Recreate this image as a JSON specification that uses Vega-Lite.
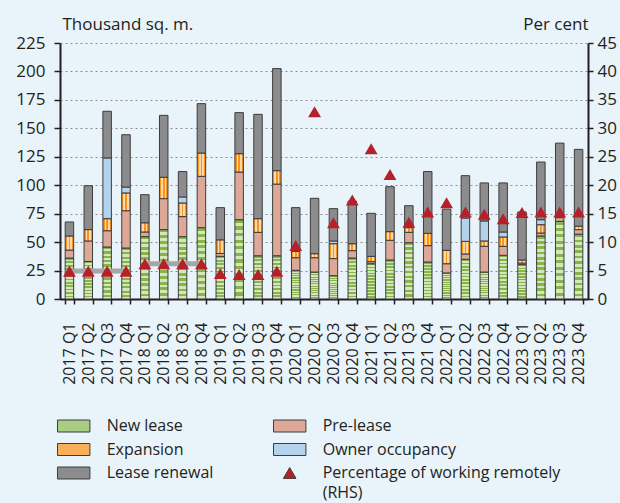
{
  "$schema": "https://vega.github.io/schema/vega-lite/v6.json",
  "width": 528,
  "height": 256,
  "autosize": {"type": "none"},
  "padding": {"left": 60, "top": 43, "right": 32, "bottom": 204},
  "background": "#E9F3FA",
  "config": {
    "view": {"stroke": null},
    "font": "Open Sans",
    "style": {"guide-label": {"lineHeight": 20}},
    "axis": {
      "labelFont": "Open Sans", "titleFont": "Open Sans",
      "labelColor": "#231F20", "titleColor": "#231F20",
      "domainColor": "#231F20", "tickColor": "#231F20",
      "domainWidth": 2, "tickWidth": 1.5, "titleFontWeight": "normal", "grid": false
    }
  },
  "datasets": {
    "bars": [
      {"q": "2017 Q1", "New lease": 36, "Pre-lease": 7, "Expansion": 12.4, "Owner occupancy": 0, "Lease renewal": 12.3},
      {"q": "2017 Q2", "New lease": 33, "Pre-lease": 18, "Expansion": 10, "Owner occupancy": 0, "Lease renewal": 38.6},
      {"q": "2017 Q3", "New lease": 45.7, "Pre-lease": 14.3, "Expansion": 10.6, "Owner occupancy": 53.4, "Lease renewal": 41},
      {"q": "2017 Q4", "New lease": 44.8, "Pre-lease": 32.8, "Expansion": 15.6, "Owner occupancy": 5.2, "Lease renewal": 46},
      {"q": "2018 Q1", "New lease": 54.8, "Pre-lease": 4.1, "Expansion": 8.1, "Owner occupancy": 0, "Lease renewal": 24.7},
      {"q": "2018 Q2", "New lease": 61, "Pre-lease": 27.2, "Expansion": 18.8, "Owner occupancy": 0, "Lease renewal": 54.4},
      {"q": "2018 Q3", "New lease": 54.8, "Pre-lease": 17.6, "Expansion": 12, "Owner occupancy": 5.3, "Lease renewal": 22.3},
      {"q": "2018 Q4", "New lease": 62.7, "Pre-lease": 45.1, "Expansion": 20.5, "Owner occupancy": 0, "Lease renewal": 43.4},
      {"q": "2019 Q1", "New lease": 37.5, "Pre-lease": 2.5, "Expansion": 12, "Owner occupancy": 0, "Lease renewal": 28.3},
      {"q": "2019 Q2", "New lease": 69.7, "Pre-lease": 41.9, "Expansion": 16.1, "Owner occupancy": 0, "Lease renewal": 36.1},
      {"q": "2019 Q3", "New lease": 38, "Pre-lease": 20.6, "Expansion": 12, "Owner occupancy": 0, "Lease renewal": 91.7},
      {"q": "2019 Q4", "New lease": 38, "Pre-lease": 63, "Expansion": 11.8, "Owner occupancy": 0, "Lease renewal": 89.7},
      {"q": "2020 Q1", "New lease": 25.2, "Pre-lease": 11.1, "Expansion": 5.6, "Owner occupancy": 0, "Lease renewal": 38.4},
      {"q": "2020 Q2", "New lease": 23.7, "Pre-lease": 12.6, "Expansion": 3.5, "Owner occupancy": 0, "Lease renewal": 48.7},
      {"q": "2020 Q3", "New lease": 20.5, "Pre-lease": 15, "Expansion": 13.1, "Owner occupancy": 2.4, "Lease renewal": 28.4},
      {"q": "2020 Q4", "New lease": 36, "Pre-lease": 6.5, "Expansion": 6.1, "Owner occupancy": 0, "Lease renewal": 37.4},
      {"q": "2021 Q1", "New lease": 31, "Pre-lease": 1.8, "Expansion": 4.7, "Owner occupancy": 0, "Lease renewal": 37.8},
      {"q": "2021 Q2", "New lease": 34.3, "Pre-lease": 17.3, "Expansion": 7.6, "Owner occupancy": 0, "Lease renewal": 39.5},
      {"q": "2021 Q3", "New lease": 49.5, "Pre-lease": 9.1, "Expansion": 4.1, "Owner occupancy": 0, "Lease renewal": 19.3},
      {"q": "2021 Q4", "New lease": 32.5, "Pre-lease": 14.4, "Expansion": 10.8, "Owner occupancy": 0, "Lease renewal": 54.3},
      {"q": "2022 Q1", "New lease": 22.9, "Pre-lease": 8.1, "Expansion": 11.8, "Owner occupancy": 0, "Lease renewal": 36.2},
      {"q": "2022 Q2", "New lease": 34.9, "Pre-lease": 4.7, "Expansion": 11.1, "Owner occupancy": 20.5, "Lease renewal": 37.2},
      {"q": "2022 Q3", "New lease": 23.7, "Pre-lease": 22.6, "Expansion": 4.7, "Owner occupancy": 17.6, "Lease renewal": 33.4},
      {"q": "2022 Q4", "New lease": 38.4, "Pre-lease": 7.9, "Expansion": 8.2, "Owner occupancy": 4.4, "Lease renewal": 43.1},
      {"q": "2023 Q1", "New lease": 30.2, "Pre-lease": 1.4, "Expansion": 2.7, "Owner occupancy": 0, "Lease renewal": 42.2},
      {"q": "2023 Q2", "New lease": 55.4, "Pre-lease": 2.6, "Expansion": 7.3, "Owner occupancy": 4.4, "Lease renewal": 50.7},
      {"q": "2023 Q3", "New lease": 68.3, "Pre-lease": 3.2, "Expansion": 0, "Owner occupancy": 0, "Lease renewal": 65.5},
      {"q": "2023 Q4", "New lease": 57, "Pre-lease": 4, "Expansion": 3, "Owner occupancy": 0, "Lease renewal": 67.5}
    ],
    "remote": [
      {"q": "2017 Q1", "pct": 4.9}, {"q": "2017 Q2", "pct": 4.9}, {"q": "2017 Q3", "pct": 4.9}, {"q": "2017 Q4", "pct": 4.9},
      {"q": "2018 Q1", "pct": 6.2}, {"q": "2018 Q2", "pct": 6.2}, {"q": "2018 Q3", "pct": 6.2}, {"q": "2018 Q4", "pct": 6.2},
      {"q": "2019 Q1", "pct": 4.5}, {"q": "2019 Q2", "pct": 4.3}, {"q": "2019 Q3", "pct": 4.3}, {"q": "2019 Q4", "pct": 4.9},
      {"q": "2020 Q1", "pct": 9.4}, {"q": "2020 Q2", "pct": 32.9}, {"q": "2020 Q3", "pct": 13.4}, {"q": "2020 Q4", "pct": 17.4},
      {"q": "2021 Q1", "pct": 26.4}, {"q": "2021 Q2", "pct": 21.9}, {"q": "2021 Q3", "pct": 13.5}, {"q": "2021 Q4", "pct": 15.3},
      {"q": "2022 Q1", "pct": 16.9}, {"q": "2022 Q2", "pct": 15.3}, {"q": "2022 Q3", "pct": 14.9}, {"q": "2022 Q4", "pct": 14.1},
      {"q": "2023 Q1", "pct": 15.2}, {"q": "2023 Q2", "pct": 15.3}, {"q": "2023 Q3", "pct": 15.3}, {"q": "2023 Q4", "pct": 15.3}
    ],
    "annual": [
      {"q": "2017 Q1", "year": "2017", "pct": 4.9}, {"q": "2017 Q2", "year": "2017", "pct": 4.9}, {"q": "2017 Q3", "year": "2017", "pct": 4.9}, {"q": "2017 Q4", "year": "2017", "pct": 4.9},
      {"q": "2018 Q1", "year": "2018", "pct": 6.2}, {"q": "2018 Q2", "year": "2018", "pct": 6.2}, {"q": "2018 Q3", "year": "2018", "pct": 6.2}, {"q": "2018 Q4", "year": "2018", "pct": 6.2}
    ]
  },
  "encoding": {
    "x": {
      "field": "q", "type": "nominal",
      "scale": {
        "domain": ["2017 Q1","2017 Q2","2017 Q3","2017 Q4","2018 Q1","2018 Q2","2018 Q3","2018 Q4","2019 Q1","2019 Q2","2019 Q3","2019 Q4","2020 Q1","2020 Q2","2020 Q3","2020 Q4","2021 Q1","2021 Q2","2021 Q3","2021 Q4","2022 Q1","2022 Q2","2022 Q3","2022 Q4","2023 Q1","2023 Q2","2023 Q3","2023 Q4"],
        "paddingInner": 0.55, "paddingOuter": 0.275
      },
      "axis": {"title": null, "labelAngle": -90, "labelFontSize": 16, "labelPadding": 18, "tickSize": 5, "tickBand": "extent", "labelAlign": "right", "labelBaseline": "middle"}
    }
  },
  "layer": [
    {
      "data": {"name": "bars"},
      "transform": [
        {"fold": ["New lease", "Pre-lease", "Expansion", "Owner occupancy", "Lease renewal"], "as": ["type", "value"]},
        {"filter": "datum.value > 0"},
        {"calculate": "indexof(['New lease','Pre-lease','Expansion','Owner occupancy','Lease renewal'], datum.type)", "as": "k"}
      ],
      "mark": {"type": "bar", "stroke": "#3C3C3C", "strokeWidth": 1},
      "encoding": {
        "y": {
          "field": "value", "type": "quantitative", "stack": "zero",
          "scale": {"domain": [0, 225], "nice": false},
          "axis": {
            "title": "Thousand sq. m.", "titleAngle": 0, "titleAlign": "left", "titleBaseline": "alphabetic",
            "titleX": 2, "titleY": -14, "titleFontSize": 17,
            "values": [0, 25, 50, 75, 100, 125, 150, 175, 200, 225],
            "labelFontSize": 17, "labelPadding": 9, "tickSize": 6,
            "grid": true, "gridDash": [2, 3], "gridColor": "#8C8C8C", "gridWidth": 1.2
          }
        },
        "fill": {
          "condition": [
            {"test": "datum.type === 'New lease'", "value": {"gradient": "linear", "x1": 0, "y1": 0, "x2": 0, "y2": 1, "stops": [
                {"offset": 0, "color": "#86B34A"}, {"offset": 0.04167, "color": "#86B34A"}, {"offset": 0.04167, "color": "#D3E7BB"}, {"offset": 0.08333, "color": "#D3E7BB"},
                {"offset": 0.08333, "color": "#86B34A"}, {"offset": 0.125, "color": "#86B34A"}, {"offset": 0.125, "color": "#D3E7BB"}, {"offset": 0.16667, "color": "#D3E7BB"},
                {"offset": 0.16667, "color": "#86B34A"}, {"offset": 0.20833, "color": "#86B34A"}, {"offset": 0.20833, "color": "#D3E7BB"}, {"offset": 0.25, "color": "#D3E7BB"},
                {"offset": 0.25, "color": "#86B34A"}, {"offset": 0.29167, "color": "#86B34A"}, {"offset": 0.29167, "color": "#D3E7BB"}, {"offset": 0.33333, "color": "#D3E7BB"},
                {"offset": 0.33333, "color": "#86B34A"}, {"offset": 0.375, "color": "#86B34A"}, {"offset": 0.375, "color": "#D3E7BB"}, {"offset": 0.41667, "color": "#D3E7BB"},
                {"offset": 0.41667, "color": "#86B34A"}, {"offset": 0.45833, "color": "#86B34A"}, {"offset": 0.45833, "color": "#D3E7BB"}, {"offset": 0.5, "color": "#D3E7BB"},
                {"offset": 0.5, "color": "#86B34A"}, {"offset": 0.54167, "color": "#86B34A"}, {"offset": 0.54167, "color": "#D3E7BB"}, {"offset": 0.58333, "color": "#D3E7BB"},
                {"offset": 0.58333, "color": "#86B34A"}, {"offset": 0.625, "color": "#86B34A"}, {"offset": 0.625, "color": "#D3E7BB"}, {"offset": 0.66667, "color": "#D3E7BB"},
                {"offset": 0.66667, "color": "#86B34A"}, {"offset": 0.70833, "color": "#86B34A"}, {"offset": 0.70833, "color": "#D3E7BB"}, {"offset": 0.75, "color": "#D3E7BB"},
                {"offset": 0.75, "color": "#86B34A"}, {"offset": 0.79167, "color": "#86B34A"}, {"offset": 0.79167, "color": "#D3E7BB"}, {"offset": 0.83333, "color": "#D3E7BB"},
                {"offset": 0.83333, "color": "#86B34A"}, {"offset": 0.875, "color": "#86B34A"}, {"offset": 0.875, "color": "#D3E7BB"}, {"offset": 0.91667, "color": "#D3E7BB"},
                {"offset": 0.91667, "color": "#86B34A"}, {"offset": 0.95833, "color": "#86B34A"}, {"offset": 0.95833, "color": "#D3E7BB"}, {"offset": 1, "color": "#D3E7BB"}
            ]}},
            {"test": "datum.type === 'Expansion'", "value": {"gradient": "linear", "x1": 0, "y1": 0, "x2": 1, "y2": 0, "stops": [
                {"offset": 0, "color": "#F7931E"}, {"offset": 0.2, "color": "#F7931E"}, {"offset": 0.2, "color": "#FFD8A6"}, {"offset": 0.4, "color": "#FFD8A6"},
                {"offset": 0.4, "color": "#F7931E"}, {"offset": 0.6, "color": "#F7931E"}, {"offset": 0.6, "color": "#FFD8A6"}, {"offset": 0.8, "color": "#FFD8A6"},
                {"offset": 0.8, "color": "#F7931E"}, {"offset": 1, "color": "#F7931E"}
            ]}}
          ],
          "field": "type", "type": "nominal",
          "scale": {
            "domain": ["New lease", "Pre-lease", "Expansion", "Owner occupancy", "Lease renewal"],
            "range": ["#A9CD84", "#DEA898", "#F9AE5A", "#B3D3EC", "#8C8C8E"]
          },
          "legend": null
        },
        "order": {"field": "k", "type": "quantitative", "sort": "ascending"}
      }
    },
    {
      "encoding": {
        "y": {
          "field": "pct", "type": "quantitative",
          "scale": {"domain": [0, 45], "nice": false},
          "axis": {
            "orient": "right", "title": "Per cent", "titleAngle": 0, "titleAlign": "right", "titleBaseline": "alphabetic",
            "titleX": 0, "titleY": -14, "titleFontSize": 17,
            "values": [0, 5, 10, 15, 20, 25, 30, 35, 40, 45],
            "labelFontSize": 17, "labelPadding": 4, "tickSize": 5, "grid": false
          }
        }
      },
      "layer": [
        {
          "data": {"name": "annual"},
          "mark": {"type": "line", "color": "#A6A6A6", "strokeWidth": 5},
          "encoding": {"detail": {"field": "year", "type": "nominal"}}
        },
        {
          "data": {"name": "remote"},
          "mark": {"type": "point", "filled": true, "size": 150, "opacity": 1},
          "encoding": {
            "color": {
              "datum": "Percentage of working remotely (RHS)",
              "scale": {
                "domain": ["New lease", "Expansion", "Lease renewal", "Pre-lease", "Owner occupancy", "Percentage of working remotely (RHS)"],
                "range": ["#A9CD84", "#F9AE5A", "#8C8C8E", "#DEA898", "#B3D3EC", "#B5202A"]
              },
              "legend": {
                "orient": "none", "legendX": -4, "legendY": 375, "columns": 2, "title": null, "padding": 0,
                "symbolSize": 144, "symbolOffset": 9.7,
                "symbolStrokeColor": "#3C3C3C", "symbolStrokeWidth": 1,
                "labelOffset": 25, "labelFontSize": 16, "labelFont": "Open Sans", "labelColor": "#231F20", "labelLimit": 400,
                "columnPadding": 57, "rowPadding": 7.5,
                "labelExpr": "datum.label == 'Percentage of working remotely (RHS)' ? ['Percentage of working remotely', '(RHS)'] : datum.label"
              }
            },
            "shape": {
              "datum": "Percentage of working remotely (RHS)",
              "scale": {
                "domain": ["New lease", "Expansion", "Lease renewal", "Pre-lease", "Owner occupancy", "Percentage of working remotely (RHS)"],
                "range": ["M-2.7,-1H2.7V1H-2.7Z", "M-2.7,-1H2.7V1H-2.7Z", "M-2.7,-1H2.7V1H-2.7Z", "M-2.7,-1H2.7V1H-2.7Z", "M-2.7,-1H2.7V1H-2.7Z", "M0,-0.9L1.05,0.9L-1.05,0.9Z"]
              },
              "legend": {
                "orient": "none", "legendX": -4, "legendY": 375, "columns": 2, "title": null, "padding": 0,
                "symbolSize": 144, "symbolOffset": 9.7,
                "symbolStrokeColor": "#3C3C3C", "symbolStrokeWidth": 1,
                "labelOffset": 25, "labelFontSize": 16, "labelFont": "Open Sans", "labelColor": "#231F20", "labelLimit": 400,
                "columnPadding": 57, "rowPadding": 7.5,
                "labelExpr": "datum.label == 'Percentage of working remotely (RHS)' ? ['Percentage of working remotely', '(RHS)'] : datum.label"
              }
            }
          }
        }
      ]
    }
  ],
  "resolve": {"scale": {"y": "independent"}, "axis": {"y": "independent"}}
}
